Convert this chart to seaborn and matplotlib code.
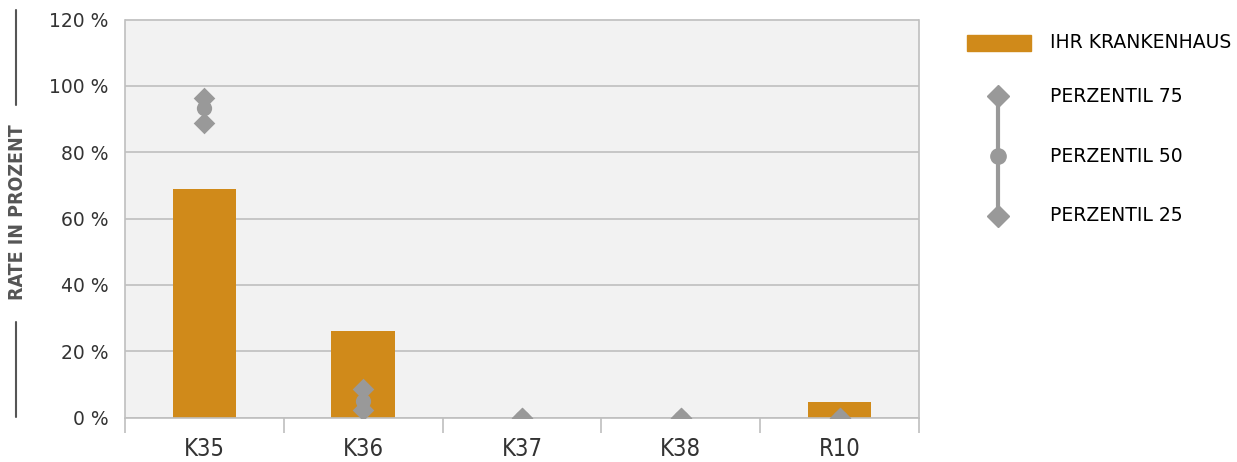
import pandas as pd
import matplotlib
matplotlib.use("Agg")
import matplotlib.pyplot as plt
import seaborn as sns
from matplotlib.lines import Line2D
from matplotlib.patches import Rectangle

# Daten
kategorien = ["K35", "K36", "K37", "K38", "R10"]
ihr_krankenhaus = [68.8, 26.0, 0.0, 0.0, 4.7]
perzentil_75 = [96.4, 8.5, 0.0, 0.0, 0.0]
perzentil_50 = [93.4, 5.0, 0.0, 0.0, 0.0]
perzentil_25 = [88.9, 2.3, 0.0, 0.0, 0.0]
y_ticks = [0, 20, 40, 60, 80, 100, 120]

orange = "#d08a1a"
grau = "#999999"

df = pd.DataFrame({"Kat": kategorien, "Rate": ihr_krankenhaus,
                   "P75": perzentil_75, "P50": perzentil_50, "P25": perzentil_25})

sns.set_style("white")
plt.rcParams["font.family"] = ["DejaVu Sans"]

fig = plt.figure(figsize=(12.37, 4.62), dpi=100)
W, H = 1237, 462
ax = fig.add_axes([125 / W, (H - 417.5) / H, (919 - 125) / W, (417.5 - 19.5) / H])
ax.set_facecolor("#f2f2f2")

sns.barplot(data=df, x="Kat", y="Rate", order=kategorien, color=orange,
            width=0.4, saturation=1, linewidth=0, ax=ax, zorder=2)
for col, mk, ms in [("P75", "D", 11), ("P25", "D", 11), ("P50", "o", 11)]:
    sns.stripplot(data=df, x="Kat", y=col, order=kategorien, jitter=False,
                  marker=mk, size=ms, color=grau, linewidth=0, ax=ax, zorder=3)
# Marker am Achsenrand abschneiden wie im Original
for coll in ax.collections:
    coll.set_clip_on(True)
    coll.set_clip_path(ax.patch)

ax.set_ylim(0, 120)
ax.set_xlim(-0.5, len(kategorien) - 0.5)
ax.set_yticks(y_ticks)
ax.set_yticklabels([f"{v} %" for v in y_ticks], fontsize=13.5, color="#333333")
ax.yaxis.grid(True, color="#bfbfbf", linewidth=1.2, zorder=0)
ax.set_axisbelow(True)
ax.tick_params(axis="y", length=0, pad=12)

ax.set_xticks(range(len(kategorien)))
ax.set_xticklabels(kategorien, fontsize=17, color="#333333", fontstretch="condensed")
ax.tick_params(axis="x", which="major", length=0, pad=14)
ax.set_xticks([i - 0.5 for i in range(len(kategorien) + 1)], minor=True)
ax.tick_params(axis="x", which="minor", bottom=True, length=11, width=1.2, color="#bfbfbf")
ax.set_xlabel("")
ax.set_ylabel("")
for s in ax.spines.values():
    s.set_color("#bfbfbf")
    s.set_linewidth(1.2)
ax.spines["top"].set_visible(False)

# Achsentitel mit Linien
fig.text(18 / W, 1 - 212 / H, "RATE IN PROZENT", rotation=90, ha="center", va="center",
         fontsize=14, color="#555555", fontstretch="condensed", fontweight="semibold")
fig.add_artist(Line2D([16 / W, 16 / W], [1 - 10 / H, 1 - 105 / H], color="#555555", lw=1.5))
fig.add_artist(Line2D([16 / W, 16 / W], [1 - 322 / H, 1 - 417 / H], color="#555555", lw=1.5))

# Legende
fig.add_artist(Rectangle((967 / W, 1 - 51 / H), 64 / W, 16 / H, color=orange,
                         transform=fig.transFigure))
fig.add_artist(Line2D([998 / W, 998 / W], [1 - 96 / H, 1 - 216 / H], color=grau, lw=3))
fig.add_artist(Line2D([998 / W], [1 - 96 / H], marker="D", ms=11, color=grau, lw=0))
fig.add_artist(Line2D([998 / W], [1 - 156 / H], marker="o", ms=11, color=grau, lw=0))
fig.add_artist(Line2D([998 / W], [1 - 216 / H], marker="D", ms=11, color=grau, lw=0))
for ty, txt in [(43, "IHR KRANKENHAUS"), (96, "PERZENTIL 75"),
                (156, "PERZENTIL 50"), (216, "PERZENTIL 25")]:
    fig.text(1050 / W, 1 - ty / H, txt, ha="left", va="center", fontsize=13.5, color="black")

fig.savefig("out.png", dpi=100)
